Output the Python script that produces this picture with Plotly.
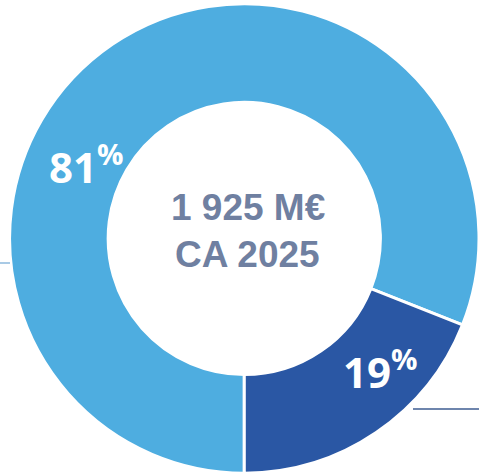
import plotly.graph_objects as go

# Data
labels = ["Segment A", "Segment B"]
values = [81, 19]
colors = ["#4EADE0", "#2A57A4"]
pct_text = ["81", "19"]
center_lines = ["1 925 M€", "CA 2025"]

W, H = 479, 476

fig = go.Figure(
    go.Pie(
        labels=labels,
        values=values,
        hole=0.58,
        sort=False,
        direction="clockwise",
        rotation=180,
        textinfo="none",
        hoverinfo="label+percent",
        marker=dict(colors=colors, line=dict(color="white", width=3)),
        domain=dict(x=[0.02, 1.0], y=[0.0, 0.998]),
        showlegend=False,
    )
)

# Percentage labels (positions in pixels converted to paper)
label_pos = {"81": (86, 164), "19": (380, 369)}
for t in pct_text:
    px, py = label_pos[t]
    fig.add_annotation(
        x=px / W, y=1 - py / H, xref="paper", yref="paper",
        text=f"<b>{t}<sup>%</sup></b>",
        showarrow=False,
        font=dict(family="Open Sans", size=42, color="white"),
        xanchor="center", yanchor="middle",
    )

# Center text
center_pos = [207, 254]
for line, py in zip(center_lines, center_pos):
    fig.add_annotation(
        x=248 / W, y=1 - py / H, xref="paper", yref="paper",
        text=f"<b>{line}</b>",
        showarrow=False,
        font=dict(family="Liberation Sans, Arial", size=37, color="#6F80A1"),
        xanchor="center", yanchor="middle",
    )

# Leader lines
fig.add_shape(type="line", xref="paper", yref="paper",
              x0=0, x1=10 / W, y0=1 - 263 / H, y1=1 - 263 / H,
              line=dict(color="#8CB9DD", width=1.5))
fig.add_shape(type="line", xref="paper", yref="paper",
              x0=413 / W, x1=1, y0=1 - 409 / H, y1=1 - 409 / H,
              line=dict(color="#3E5C92", width=1.5))

fig.update_layout(
    width=W, height=H,
    margin=dict(l=0, r=0, t=0, b=0),
    paper_bgcolor="white",
    plot_bgcolor="white",
)

fig.write_html(
    "out.html",
    config={"displayModeBar": False},
    post_script="document.body.style.margin='0';document.body.style.overflow='hidden';",
)
